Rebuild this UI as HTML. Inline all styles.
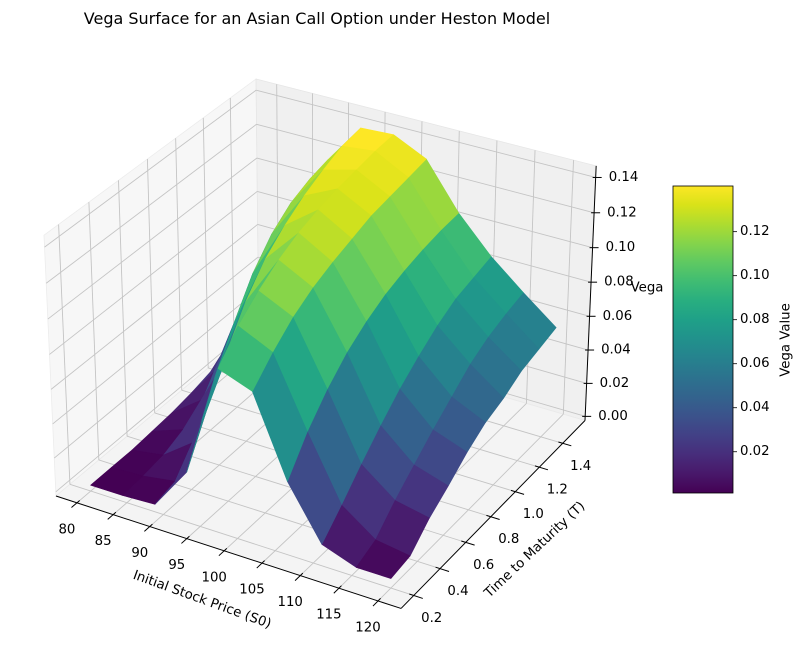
<!DOCTYPE html>
<html><head><meta charset="utf-8"><title>Vega Surface</title>
<style>
html,body{margin:0;padding:0;background:#fff;}
svg{display:block;font-family:"DejaVu Sans","Liberation Sans",sans-serif;}
</style></head>
<body>
<svg id="chart" xmlns="http://www.w3.org/2000/svg" width="804" height="658" viewBox="0 0 804 658">
  <defs>
    <linearGradient id="viridis" x1="0" y1="1" x2="0" y2="0">
      <stop offset="0" stop-color="#440154"/><stop offset="0.0625" stop-color="#48186a"/>
      <stop offset="0.125" stop-color="#472d7b"/><stop offset="0.1875" stop-color="#424086"/>
      <stop offset="0.25" stop-color="#3b528b"/><stop offset="0.3125" stop-color="#33638d"/>
      <stop offset="0.375" stop-color="#2c728e"/><stop offset="0.4375" stop-color="#26828e"/>
      <stop offset="0.5" stop-color="#21918c"/><stop offset="0.5625" stop-color="#1fa088"/>
      <stop offset="0.625" stop-color="#28ae80"/><stop offset="0.6875" stop-color="#3fbc73"/>
      <stop offset="0.75" stop-color="#5ec962"/><stop offset="0.8125" stop-color="#84d44b"/>
      <stop offset="0.875" stop-color="#addc30"/><stop offset="0.9375" stop-color="#d8e219"/>
      <stop offset="1" stop-color="#fde725"/>
    </linearGradient>
  </defs>
  <text x="317" y="24" font-size="16" text-anchor="middle" fill="#000">Vega Surface for an Asian Call Option under Heston Model</text>
  <g id="panes"></g>
  <g id="grid"></g>
  <g id="axes"></g>
  <g id="surface"></g>
  <g id="labels"></g>
  <text x="202" y="600" font-size="13.3" text-anchor="middle" dominant-baseline="central" transform="rotate(20 202 600)">Initial Stock Price (S0)</text>
  <text x="535" y="550" font-size="13.3" text-anchor="middle" dominant-baseline="central" transform="rotate(-43.5 535 550)">Time to Maturity (T)</text>
  <text x="647" y="288" font-size="13.3" text-anchor="middle" dominant-baseline="central">Vega</text>
  <g id="colorbar">
    <rect x="673" y="186" width="60" height="307" fill="url(#viridis)" stroke="#000" stroke-width="0.8"/>
  </g>
  <text x="786" y="340" font-size="13.3" text-anchor="middle" dominant-baseline="central" transform="rotate(-90 786 340)">Vega Value</text>
</svg>
<script>
// ---- data ----
const S_VALUES = [80, 84.44, 88.89, 93.33, 97.78, 102.22, 106.67, 111.11, 115.56, 120];
const T_VALUES = [0.2, 0.344, 0.489, 0.633, 0.778, 0.922, 1.067, 1.211, 1.356, 1.5];
const VEGA_T0 = [0.001, 0.001, 0.002, 0.027, 0.092, 0.085, 0.040, 0.010, 0.003, 0.003];
const VEGA_T1 = [0.001, 0.002, 0.005, 0.052, 0.106, 0.097, 0.058, 0.022, 0.008, 0.005];
const VEGA_T2 = [0.001, 0.004, 0.018, 0.075, 0.116, 0.107, 0.072, 0.035, 0.020, 0.016];
const VEGA_T3 = [0.002, 0.009, 0.045, 0.095, 0.124, 0.114, 0.083, 0.047, 0.030, 0.024];
const VEGA_T4 = [0.003, 0.017, 0.067, 0.110, 0.130, 0.119, 0.091, 0.058, 0.040, 0.033];
const VEGA_T5 = [0.005, 0.028, 0.087, 0.120, 0.134, 0.123, 0.097, 0.067, 0.049, 0.040];
const VEGA_T6 = [0.008, 0.043, 0.101, 0.128, 0.137, 0.127, 0.101, 0.075, 0.058, 0.044];
const VEGA_T7 = [0.013, 0.058, 0.110, 0.134, 0.139, 0.129, 0.104, 0.081, 0.064, 0.050];
const VEGA_T8 = [0.020, 0.070, 0.115, 0.139, 0.141, 0.131, 0.106, 0.084, 0.068, 0.053];
const VEGA_T9 = [0.030, 0.080, 0.118, 0.141, 0.142, 0.133, 0.107, 0.087, 0.071, 0.056];
const X_TICKS = [80, 85, 90, 95, 100, 105, 110, 115, 120];
const Y_TICKS = [0.2, 0.4, 0.6, 0.8, 1.0, 1.2, 1.4];
const Z_TICKS = [0.00, 0.02, 0.04, 0.06, 0.08, 0.10, 0.12, 0.14];
const CB_TICKS = [0.02, 0.04, 0.06, 0.08, 0.10, 0.12];

const VEGA = [VEGA_T0, VEGA_T1, VEGA_T2, VEGA_T3, VEGA_T4, VEGA_T5, VEGA_T6, VEGA_T7, VEGA_T8, VEGA_T9];
const NS = 'http://www.w3.org/2000/svg';

function padLim(lo, hi) { const r = hi - lo; lo -= 0.05 * r; hi += 0.05 * r; const d = (hi - lo) / 48; return [lo - d, hi + d]; }
const XL = padLim(Math.min(...S_VALUES), Math.max(...S_VALUES));
const YL = padLim(Math.min(...T_VALUES), Math.max(...T_VALUES));
const ZL = [-0.0025, 0.1465];

const d2r = Math.PI / 180, elev = 30 * d2r, azim = -60 * d2r;
const nrm = Math.sqrt(41), BOX = [4, 4, 3].map(v => v * 1.8294640721620434 / nrm);
const RC = BOX.map(v => v / 2);
const PS = [Math.cos(elev) * Math.cos(azim), Math.cos(elev) * Math.sin(azim), Math.sin(elev)];
const EYE = RC.map((r, i) => r + 10 * PS[i]);
function cross(a, b) { return [a[1]*b[2]-a[2]*b[1], a[2]*b[0]-a[0]*b[2], a[0]*b[1]-a[1]*b[0]]; }
function dot(a, b) { return a[0]*b[0]+a[1]*b[1]+a[2]*b[2]; }
function unit(a) { const l = Math.sqrt(dot(a, a)); return a.map(v => v / l); }
const W = unit(PS), U = unit(cross([0, 0, 1], W)), V = cross(W, U);
function raw(x, y, z) {
  const n = [(x - XL[0]) / (XL[1] - XL[0]) * BOX[0], (y - YL[0]) / (YL[1] - YL[0]) * BOX[1], (z - ZL[0]) / (ZL[1] - ZL[0]) * BOX[2]];
  const d = n.map((v, i) => v - EYE[i]);
  const pz = dot(W, d);
  return [dot(U, d) / -pz, dot(V, d) / -pz, pz];
}
const A = raw(XL[0], YL[0], ZL[0]), C = raw(XL[1], YL[1], ZL[0]), D = raw(XL[0], YL[1], ZL[1]);
const SXK = (585 - 56) / (C[0] - A[0]), SXO = 56 - SXK * A[0];
const SYK = (79 - 496) / (D[1] - A[1]), SYO = 496 - SYK * A[1];
function P(x, y, z) { const r = raw(x, y, z); return [SXO + SXK * r[0], SYO + SYK * r[1], r[2]]; }

const VIR = ['#440154','#48186a','#472d7b','#424086','#3b528b','#33638d','#2c728e','#26828e','#21918c','#1fa088','#28ae80','#3fbc73','#5ec962','#84d44b','#addc30','#d8e219','#fde725'];
function hex(h) { return [1,3,5].map(i => parseInt(h.substr(i, 2), 16)); }
function viridis(t) {
  t = Math.max(0, Math.min(1, t)); const f = t * 16, i = Math.min(15, Math.floor(f)), r = f - i;
  const a = hex(VIR[i]), b = hex(VIR[i + 1]);
  return 'rgb(' + a.map((v, k) => Math.round(v + (b[k] - v) * r)).join(',') + ')';
}

function mk(tag, attrs, parent) {
  const el = document.createElementNS(NS, tag);
  for (const k in attrs) el.setAttribute(k, attrs[k]);
  parent.appendChild(el); return el;
}
function pts(arr) { return arr.map(p => p[0].toFixed(2) + ',' + p[1].toFixed(2)).join(' '); }

const gP = document.getElementById('panes');
let el;
el = mk('polygon', {points: pts([P(XL[0],YL[0],ZL[0]),P(XL[0],YL[1],ZL[0]),P(XL[0],YL[1],ZL[1]),P(XL[0],YL[0],ZL[1])]), fill: '#f7f7f7', stroke: '#ececec', 'stroke-width': 0.8}, gP);


el = mk('polygon', {points: pts([P(XL[0],YL[1],ZL[0]),P(XL[1],YL[1],ZL[0]),P(XL[1],YL[1],ZL[1]),P(XL[0],YL[1],ZL[1])]), fill: '#f0f0f0', stroke: '#e6e6e6', 'stroke-width': 0.8}, gP);


el = mk('polygon', {points: pts([P(XL[0],YL[0],ZL[0]),P(XL[1],YL[0],ZL[0]),P(XL[1],YL[1],ZL[0]),P(XL[0],YL[1],ZL[0])]), fill: '#f4f4f4', stroke: '#eaeaea', 'stroke-width': 0.8}, gP);



const gG = document.getElementById('grid');
function gl(a, b) {
  const l = mk('line', {x1: a[0], y1: a[1], x2: b[0], y2: b[1], stroke: '#c4c4c4', 'stroke-width': 0.9}, gG);
  
  
}
X_TICKS.forEach(x => { gl(P(x, YL[0], ZL[0]), P(x, YL[1], ZL[0])); gl(P(x, YL[1], ZL[0]), P(x, YL[1], ZL[1])); });
Y_TICKS.forEach(y => { gl(P(XL[0], y, ZL[0]), P(XL[1], y, ZL[0])); gl(P(XL[0], y, ZL[0]), P(XL[0], y, ZL[1])); });
Z_TICKS.forEach(z => { gl(P(XL[0], YL[0], z), P(XL[0], YL[1], z)); gl(P(XL[0], YL[1], z), P(XL[1], YL[1], z)); });

const gA = document.getElementById('axes');
function al(a, b, name) {
  const l = mk('line', {x1: a[0], y1: a[1], x2: b[0], y2: b[1], stroke: '#000', 'stroke-width': 1}, gA);
  
  
}
al(P(XL[0], YL[0], ZL[0]), P(XL[1], YL[0], ZL[0]), 'x-axis-line');
al(P(XL[1], YL[0], ZL[0]), P(XL[1], YL[1], ZL[0]), 'y-axis-line');
al(P(XL[1], YL[1], ZL[0]), P(XL[1], YL[1], ZL[1]), 'z-axis-line');
const gL = document.getElementById('labels');
function lab(x, y, s, anchor, name) {
  const t = mk('text', {x: x.toFixed(1), y: y.toFixed(1), 'font-size': 13.3, 'text-anchor': anchor, 'dominant-baseline': 'central', fill: '#000'}, gL);
  t.textContent = s;
  
  
}
const dy = (YL[1] - YL[0]) * 0.025, dx = (XL[1] - XL[0]) * 0.025;
X_TICKS.forEach(x => {
  const p = P(x, YL[0], ZL[0]);
  al(P(x, YL[0] + dy * 0.5, ZL[0]), P(x, YL[0] - dy, ZL[0]), 'x-tick');
  lab(p[0] - 10, p[1] + 27, String(x), 'middle', 'x-tick-label');
});
Y_TICKS.forEach(y => {
  const p = P(XL[1], y, ZL[0]);
  al(P(XL[1] - dx * 0.5, y, ZL[0]), P(XL[1] + dx, y, ZL[0]), 'y-tick');
  lab(p[0] + 18, p[1] + 23, y.toFixed(1), 'middle', 'y-tick-label');
});
Z_TICKS.forEach(z => {
  const p = P(XL[1], YL[1], z);
  al([p[0] - 3, p[1]], [p[0] + 6, p[1]], 'z-tick');
  lab(p[0] + 13, p[1], z.toFixed(2), 'start', 'z-tick-label');
});

const faces = [];
for (let k = 0; k < T_VALUES.length - 1; k++) {
  for (let i = 0; i < S_VALUES.length - 1; i++) {
    const c = [[i, k], [i + 1, k], [i + 1, k + 1], [i, k + 1]];
    const p = c.map(q => P(S_VALUES[q[0]], T_VALUES[q[1]], VEGA[q[1]][q[0]]));
    const avg = c.reduce((s, q) => s + VEGA[q[1]][q[0]], 0) / 4;
    const depth = p.reduce((s, q) => s + q[2], 0) / 4;
    faces.push({p, avg, depth});
  }
}
const VMIN = Math.min(...faces.map(f => f.avg)), VMAX = Math.max(...faces.map(f => f.avg));
faces.sort((a, b) => a.depth - b.depth);
const gS = document.getElementById('surface');
faces.forEach(f => {
  const col = viridis((f.avg - VMIN) / (VMAX - VMIN));
  const poly = mk('polygon', {points: pts(f.p), fill: col, stroke: col, 'stroke-width': 0.6, 'stroke-linejoin': 'round'}, gS);
  
  
});

const gC = document.getElementById('colorbar');
CB_TICKS.forEach(t => {
  const y = 493 - (t - VMIN) / (VMAX - VMIN) * 307;
  const l = mk('line', {x1: 733, y1: y, x2: 737, y2: y, stroke: '#000', 'stroke-width': 0.8}, gC);
  
  
  const tx = mk('text', {x: 740, y: y.toFixed(1), 'font-size': 13.3, 'dominant-baseline': 'central', fill: '#000'}, gC);
  tx.textContent = t.toFixed(2);
  
  
});
</script>
</body></html>
